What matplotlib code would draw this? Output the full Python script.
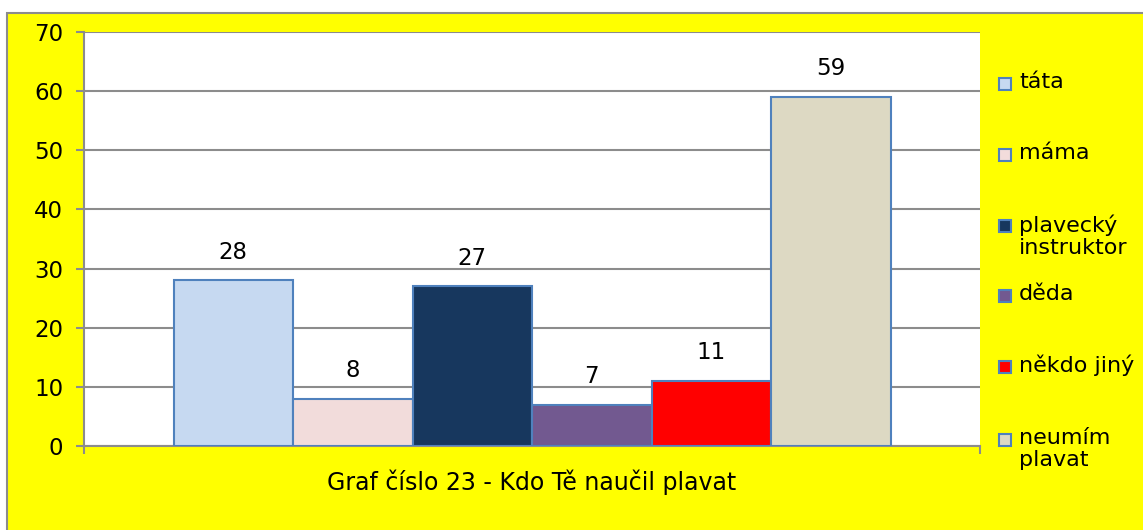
import matplotlib.pyplot as plt
from matplotlib.patches import Rectangle

plt.rcParams['font.family'] = ['DejaVu Sans']

labels = ['táta', 'máma', 'plavecký\ninstruktor', 'děda', 'někdo jiný', 'neumím\nplavat']
values = [28, 8, 27, 7, 11, 59]
colors = ['#C6D9F1', '#F2DCDB', '#17375E', '#725990', '#FF0000', '#DDD9C3']
category = 'Graf číslo 23 - Kdo Tě naučil plavat'
yticks = [0, 10, 20, 30, 40, 50, 60, 70]

W, H = 1143, 530
fig = plt.figure(figsize=(W / 100, H / 100), dpi=100, facecolor='white')

# yellow chart area with grey border
fig.patches.append(Rectangle((7 / W, -0.05), 1.1, (530 - 13) / H + 0.05,
                             transform=fig.transFigure, facecolor='#FFFF00',
                             edgecolor='#8C8C8C', linewidth=1.5, zorder=-1))

ax = fig.add_axes([84 / W, 1 - 446 / H, (980 - 84) / W, (446 - 32) / H])
ax.set_zorder(2)
ax.set_facecolor('white')

bw = 119.5 / 896
n = len(values)
for i, (v, c) in enumerate(zip(values, colors)):
    x = (i - (n - 1) / 2) * bw
    ax.bar(x, v, width=bw, color=c, edgecolor='#4F81BD', linewidth=1.5, zorder=3)
    ax.annotate(str(v), (x, v), xytext=(0, 12), textcoords='offset points',
                ha='center', va='bottom', fontsize=16.5)

ax.set_xlim(-0.5, 0.5)
ax.set_ylim(0, 70)
ax.set_yticks(yticks)
ax.grid(axis='y', color='#8C8C8C', linewidth=1.5, zorder=1)
ax.tick_params(axis='y', labelsize=16.5, length=6, width=1.5, color='#8C8C8C', pad=9)

ax.set_xticks([0])
ax.set_xticklabels([category])
ax.set_xticks([-0.5, 0.5], minor=True)
ax.tick_params(axis='x', which='major', length=0, labelsize=17, pad=17)
ax.tick_params(axis='x', which='minor', length=6, width=1.5, color='#8C8C8C')

for s in ['top', 'right']:
    ax.spines[s].set_visible(False)
for s in ['left', 'bottom']:
    ax.spines[s].set_color('#8C8C8C')
    ax.spines[s].set_linewidth(1.5)

# legend, placed like the spreadsheet one
leg_y = [84, 155, 226, 296, 367, 440]
for lab, c, y in zip(labels, colors, leg_y):
    fig.patches.append(Rectangle((999 / W, 1 - (y + 6) / H), 12 / W, 12 / H,
                                 transform=fig.transFigure, facecolor=c,
                                 edgecolor='#4F81BD', linewidth=1.5))
    fig.text(1019 / W, 1 - (y - 12) / H, lab, ha='left', va='top',
             fontsize=16, linespacing=1.15)

fig.savefig('out.png', dpi=100, facecolor=fig.get_facecolor())
